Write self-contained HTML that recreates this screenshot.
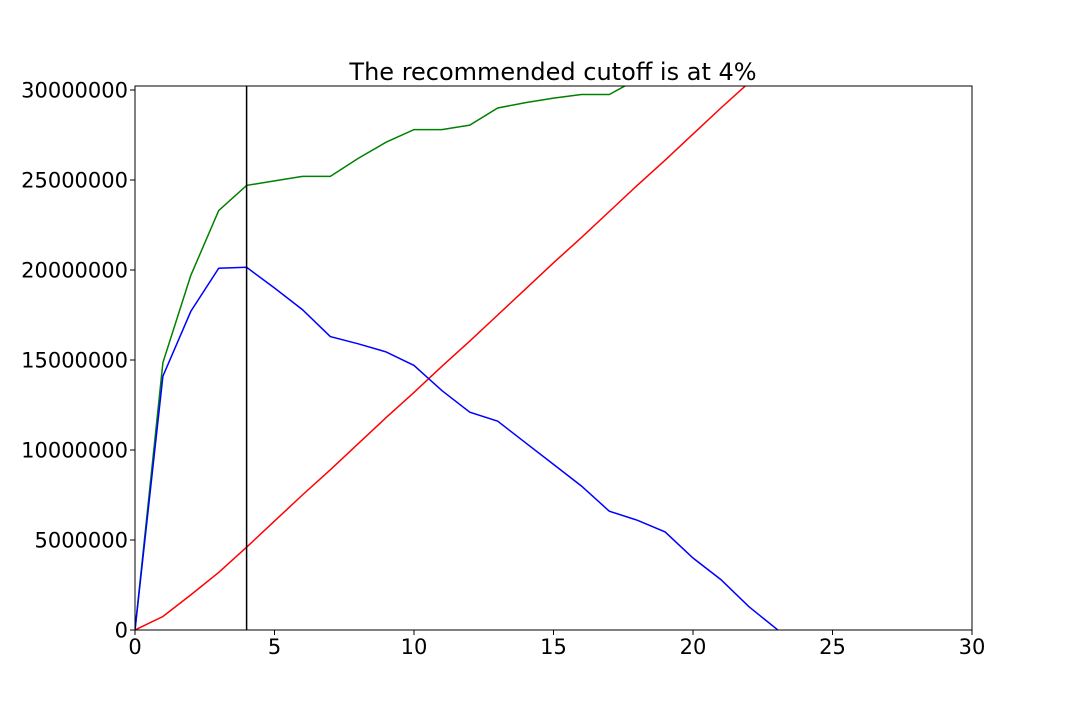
<!DOCTYPE html>
<html><head><meta charset="utf-8"><style>
html,body{margin:0;background:#fff;width:1080px;height:720px;overflow:hidden;}
svg{display:block;font-family:"DejaVu Sans","Liberation Sans",sans-serif;}
</style></head><body>
<svg id="chart" width="1080" height="720" xmlns="http://www.w3.org/2000/svg">
<defs><clipPath id="clip"><rect x="135" y="86" width="837" height="544"/></clipPath></defs>
<text x="553" y="80" text-anchor="middle" font-size="24">The recommended cutoff is at 4%</text>
<g id="plot" clip-path="url(#clip)"></g>
<rect x="135" y="86" width="837" height="544" fill="none" stroke="#000" stroke-width="1"/>
<g id="axes"></g>
</svg>
<script>
const xs = [0,1,2,3,4,5,6,7,8,9,10,11,12,13,14,15,16,17,18,19,20,21,22,23,24,25,26,27,28,29,30];
const greenVals = [0,14.85,19.7,23.3,24.7,24.95,25.2,25.2,26.2,27.1,27.8,27.8,28.05,29.0,29.3,29.55,29.75,29.75,30.6,31.2,31.8,32.3,32.8,33.2,33.6,34,34.3,34.6,34.9,35.2,35.5];
const blueVals = [0,14.1,17.7,20.1,20.15,19.0,17.8,16.3,15.9,15.45,14.7,13.3,12.1,11.6,10.4,9.2,8.0,6.6,6.1,5.45,4.0,2.8,1.3,0.05,-1.3,-2.5,-3.8,-5,-6.2,-7.4,-8.6];
const redVals = [0,0.75,1.95,3.2,4.6,6.05,7.5,8.9,10.35,11.8,13.2,14.65,16.05,17.5,18.95,20.4,21.8,23.25,24.7,26.1,27.55,29.0,30.4,31.85,33.3,34.7,36.1,37.5,39,40.4,41.8];
const cutoff = 4;
const xTicks = [0,5,10,15,20,25,30];
const yTicks = [0,5000000,10000000,15000000,20000000,25000000,30000000];
const X = v => 135 + v*(837/30);
const Y = v => 630 - v*(540/30000000);
const NS="http://www.w3.org/2000/svg";
const plot=document.getElementById('plot'), axes=document.getElementById('axes');
function line(vals,color,name){
  const p=document.createElementNS(NS,'polyline');
  p.setAttribute('points',vals.map((v,i)=>X(xs[i])+','+Y(v*1e6)).join(' '));
  p.setAttribute('fill','none');p.setAttribute('stroke',color);p.setAttribute('stroke-width','1.5');
  
  
  plot.appendChild(p);
}
line(redVals,'#ff0000','red-series');
line(greenVals,'#008000','green-series');
line(blueVals,'#0000ff','blue-series');
const c=document.createElementNS(NS,'line');
c.setAttribute('x1',X(cutoff));c.setAttribute('x2',X(cutoff));c.setAttribute('y1',86);c.setAttribute('y2',630);
c.setAttribute('stroke','#000');c.setAttribute('stroke-width','1.5');


plot.appendChild(c);
xTicks.forEach(t=>{
  const l=document.createElementNS(NS,'line');
  l.setAttribute('x1',X(t));l.setAttribute('x2',X(t));l.setAttribute('y1',630);l.setAttribute('y2',635);l.setAttribute('stroke','#000');
  
  
  axes.appendChild(l);
  const tx=document.createElementNS(NS,'text');
  tx.setAttribute('x',X(t));tx.setAttribute('y',654);tx.setAttribute('text-anchor','middle');tx.setAttribute('font-size','21');
  tx.textContent=t;
  
  
  axes.appendChild(tx);
});
yTicks.forEach(t=>{
  const l=document.createElementNS(NS,'line');
  l.setAttribute('x1',130);l.setAttribute('x2',135);l.setAttribute('y1',Y(t));l.setAttribute('y2',Y(t));l.setAttribute('stroke','#000');
  
  
  axes.appendChild(l);
  const tx=document.createElementNS(NS,'text');
  tx.setAttribute('x',128);tx.setAttribute('y',Y(t)+7.5);tx.setAttribute('text-anchor','end');tx.setAttribute('font-size','21');
  tx.textContent=t;
  
  
  axes.appendChild(tx);
});
</script>
</body></html>
